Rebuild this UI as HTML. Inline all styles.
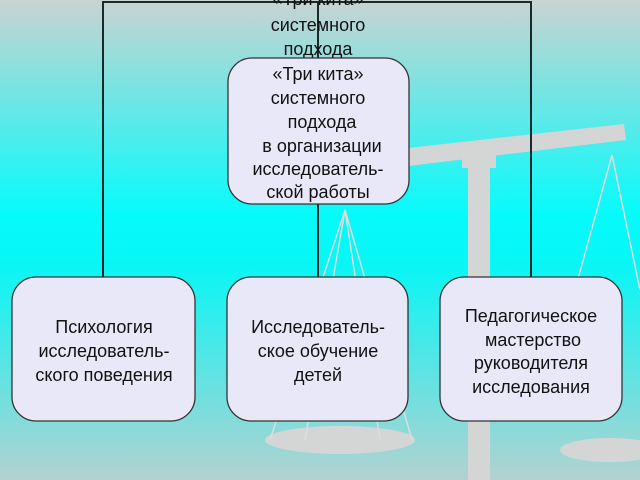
<!DOCTYPE html>
<html><head><meta charset="utf-8"><style>
body{margin:0;width:640px;height:480px;overflow:hidden}
svg{display:block}
text{font-family:"Liberation Sans","DejaVu Sans",sans-serif;font-size:18px;fill:#111;text-anchor:middle}
</style></head><body>
<svg width="640" height="480" viewBox="0 0 640 480">
<defs><linearGradient id="bg" x1="0" y1="0" x2="0" y2="1">
<stop offset="0" stop-color="#cad3d1"/><stop offset="0.45" stop-color="#05fbfb"/><stop offset="0.55" stop-color="#08f6f6"/><stop offset="1" stop-color="#b2d2d0"/></linearGradient></defs>
<rect width="640" height="480" fill="url(#bg)"/>
<g fill="#d4d6d6" stroke="none">
<polygon points="408,148 624,124 626,140 408,166"/>
<rect x="468" y="160" width="22" height="320"/>
<rect x="462" y="152" width="34" height="16"/>
<ellipse cx="340" cy="440" rx="75" ry="14"/>
<ellipse cx="610" cy="450" rx="50" ry="12"/>
</g>
<g stroke="#dcdede" stroke-width="1.5" fill="none">
<path d="M345 210 L270 440 M345 210 L305 440 M345 210 L380 440 M345 210 L412 440"/>
<path d="M612 155 L575 290 M612 155 L640 290"/>
</g>
<g stroke="#1a2a2a" stroke-width="2" fill="none">
<path d="M103 277 V2 H531 V277"/>
<path d="M318 2 V277"/>
</g>
<text x="318" y="5">«Три кита»</text>
<text x="318" y="31">системного</text>
<text x="318" y="55">подхода</text>
<g fill="#e8e8f8" stroke="#333" stroke-width="1.3">
<rect x="228" y="58" width="181" height="146" rx="24"/>
<rect x="12" y="277" width="183" height="144" rx="24"/>
<rect x="227" y="277" width="181" height="144" rx="24"/>
<rect x="440" y="277" width="182" height="144" rx="24"/>
</g>
<text x="318" y="80">«Три кита»</text>
<text x="318" y="104">системного</text>
<text x="322" y="128">подхода</text>
<text x="322" y="152">в организации</text>
<text x="318" y="175">исследователь-</text>
<text x="318" y="198">ской работы</text>
<text x="104" y="333">Психология</text>
<text x="104" y="357">исследователь-</text>
<text x="104" y="381">ского поведения</text>
<text x="318" y="333">Исследователь-</text>
<text x="318" y="357">ское обучение</text>
<text x="318" y="381">детей</text>
<text x="531" y="322">Педагогическое</text>
<text x="533" y="346">мастерство</text>
<text x="531" y="369">руководителя</text>
<text x="531" y="393">исследования</text>
</svg>
</body></html>
